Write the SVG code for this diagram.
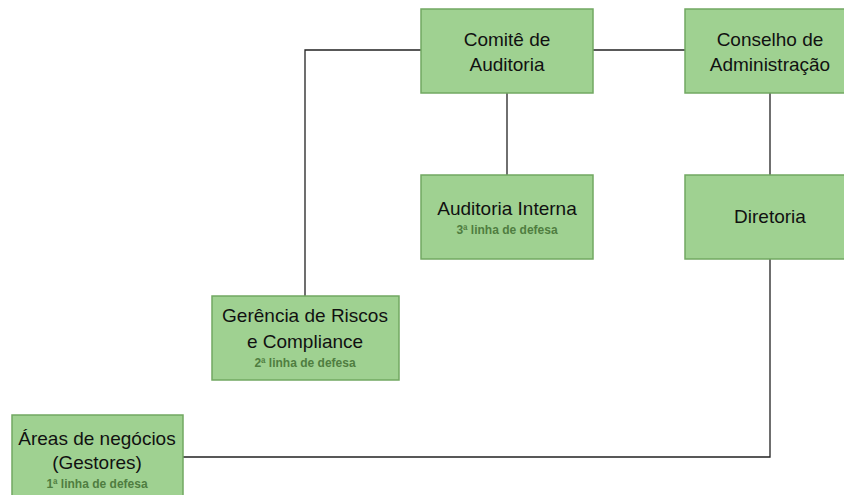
<svg xmlns="http://www.w3.org/2000/svg" width="844" height="495" viewBox="0 0 844 495">
<style>
.box{fill:#9fd191;stroke:#72a862;stroke-width:1.5}
.t{font-family:"Liberation Sans",Arial,sans-serif;font-size:19px;fill:#111;text-anchor:middle}
.s{font-family:"Liberation Sans",Arial,sans-serif;font-size:12px;font-weight:bold;fill:#4f7d40;text-anchor:middle}
.c{fill:none;stroke:#222;stroke-width:1.3}
</style>
<rect width="844" height="495" fill="#fff"/>
<g id="connectors">
<polyline class="c" points="421,50 305,50 305,296"/>
<line class="c" x1="593" y1="50" x2="685" y2="50"/>
<line class="c" x1="507" y1="93" x2="507" y2="175"/>
<line class="c" x1="770" y1="93" x2="770" y2="175"/>
<polyline class="c" points="770,259 770,457 183,457"/>
</g>
<g id="comite">
<rect class="box" x="421" y="9" width="172" height="84"/>
<text class="t" x="507" y="46">Comitê de</text>
<text class="t" x="507" y="71">Auditoria</text>
</g>
<g id="conselho">
<rect class="box" x="685" y="9" width="170" height="84"/>
<text class="t" x="770" y="46">Conselho de</text>
<text class="t" x="770" y="71">Administração</text>
</g>
<g id="auditoria-interna">
<rect class="box" x="421" y="175" width="172" height="84"/>
<text class="t" x="507" y="215">Auditoria Interna</text>
<text class="s" x="507" y="234">3ª linha de defesa</text>
</g>
<g id="diretoria">
<rect class="box" x="685" y="175" width="170" height="84"/>
<text class="t" x="770" y="223">Diretoria</text>
</g>
<g id="gerencia">
<rect class="box" x="212" y="296" width="187" height="84"/>
<text class="t" x="305" y="322">Gerência de Riscos</text>
<text class="t" x="305" y="348">e Compliance</text>
<text class="s" x="305" y="367">2ª linha de defesa</text>
</g>
<g id="areas">
<rect class="box" x="12" y="415" width="171" height="90"/>
<text class="t" x="97" y="445">Áreas de negócios</text>
<text class="t" x="97" y="469">(Gestores)</text>
<text class="s" x="97" y="488">1ª linha de defesa</text>
</g>
</svg>
